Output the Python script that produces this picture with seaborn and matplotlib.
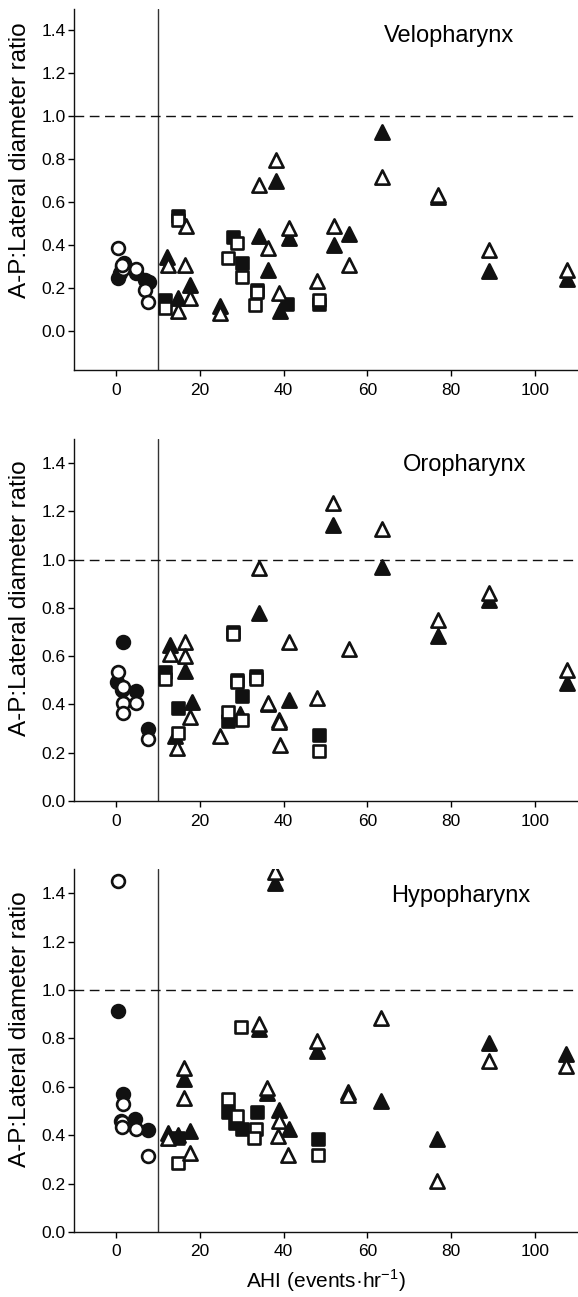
"""
Pharyngeal A-P:lateral diameter ratio against AHI, three airway regions.
Open/filled markers are the two measurements for each subject.
"""

import numpy as np
import pandas as pd
import matplotlib
matplotlib.use('Agg')
import matplotlib.pyplot as plt
import seaborn as sns

# ============================================================================
# Data: (AHI, ratio) pairs
# ============================================================================
REGIONS = ['Velopharynx', 'Oropharynx', 'Hypopharynx']

velo_circle_open = [(0.5, 0.39), (1.7, 0.29), (1.5, 0.31), (4.9, 0.29), (6.9, 0.19), (7.7, 0.135)]
velo_circle_filled = [(0.5, 0.25), (1.0, 0.27), (1.5, 0.30), (2.0, 0.32), (4.9, 0.27),
                      (6.9, 0.24), (8.0, 0.23)]
velo_square_open = [(11.7, 0.108), (14.9, 0.52), (26.8, 0.34), (29.0, 0.41), (30.0, 0.255),
                    (33.2, 0.123), (33.6, 0.185), (48.5, 0.146)]
velo_square_filled = [(11.7, 0.146), (14.9, 0.535), (28.0, 0.44), (30.0, 0.32), (33.6, 0.19),
                      (40.7, 0.125), (48.5, 0.125)]
velo_tri_open = [(12.5, 0.31), (14.9, 0.093), (16.5, 0.31), (16.8, 0.49), (17.7, 0.154),
                 (24.8, 0.085), (34.2, 0.679), (36.3, 0.386), (38.2, 0.795), (38.8, 0.177),
                 (41.4, 0.48), (48.0, 0.234), (52.0, 0.49), (55.7, 0.308), (63.4, 0.718),
                 (76.9, 0.636), (89.1, 0.38), (107.7, 0.285)]
velo_tri_filled = [(12.1, 0.347), (14.9, 0.154), (17.7, 0.216), (24.8, 0.12), (34.2, 0.444),
                   (36.3, 0.285), (38.2, 0.70), (39.1, 0.093), (41.4, 0.435), (52.0, 0.404),
                   (55.7, 0.455), (63.4, 0.926), (76.9, 0.625), (89.1, 0.28), (107.7, 0.245)]

oro_circle_open = [(0.5, 0.535), (1.75, 0.473), (1.75, 0.407), (1.75, 0.363), (4.9, 0.407),
                   (7.7, 0.255)]
oro_circle_filled = [(1.75, 0.657), (0.3, 0.494), (1.5, 0.46), (4.9, 0.457), (7.7, 0.297)]
oro_square_open = [(11.7, 0.505), (14.9, 0.28), (26.8, 0.37), (28.0, 0.69), (28.8, 0.494),
                   (30.0, 0.335), (33.4, 0.505), (48.5, 0.208)]
oro_square_filled = [(11.7, 0.535), (14.9, 0.384), (26.8, 0.33), (28.0, 0.70), (28.8, 0.50),
                     (30.0, 0.435), (33.4, 0.52), (48.5, 0.273)]
oro_tri_open = [(12.9, 0.61), (14.6, 0.218), (16.5, 0.66), (16.5, 0.60), (17.7, 0.35),
                (24.8, 0.27), (34.2, 0.964), (36.3, 0.407), (39.0, 0.328), (39.1, 0.232),
                (41.4, 0.66), (47.9, 0.425), (51.9, 1.235), (55.7, 0.628), (63.4, 1.129),
                (76.9, 0.752), (89.1, 0.862), (107.6, 0.542)]
oro_tri_filled = [(12.9, 0.646), (14.1, 0.27), (16.5, 0.54), (18.1, 0.41), (29.6, 0.36),
                  (34.2, 0.777), (36.3, 0.40), (39.0, 0.335), (41.4, 0.418), (51.9, 1.143),
                  (63.4, 0.968), (76.9, 0.683), (89.1, 0.832), (107.6, 0.487)]

hypo_circle_open = [(0.55, 1.452), (1.6, 0.527), (1.35, 0.454), (1.35, 0.435), (4.8, 0.427),
                    (7.7, 0.313)]
hypo_circle_filled = [(0.55, 0.913), (1.6, 0.569), (1.2, 0.46), (4.5, 0.465), (7.7, 0.42)]
hypo_square_open = [(14.9, 0.286), (26.8, 0.548), (28.8, 0.479), (29.8, 0.847), (33.4, 0.424),
                    (33.0, 0.389), (48.3, 0.32)]
hypo_square_filled = [(14.9, 0.389), (26.8, 0.495), (28.5, 0.45), (30.0, 0.427), (33.6, 0.495),
                      (48.3, 0.385)]
hypo_tri_open = [(12.5, 0.39), (16.3, 0.679), (16.3, 0.555), (17.7, 0.327), (34.2, 0.858),
                 (36.0, 0.596), (38.0, 1.489), (39.0, 0.458), (38.7, 0.396), (41.1, 0.32),
                 (47.9, 0.789), (55.4, 0.565), (63.2, 0.886), (76.7, 0.21), (89.0, 0.707),
                 (107.4, 0.686)]
hypo_tri_filled = [(12.5, 0.41), (14.9, 0.40), (16.3, 0.634), (17.7, 0.417), (34.2, 0.84),
                   (36.0, 0.575), (38.0, 1.442), (39.0, 0.506), (41.4, 0.424), (47.9, 0.748),
                   (55.4, 0.58), (63.2, 0.541), (76.7, 0.386), (89.0, 0.783), (107.4, 0.734)]

PANEL_DATA = {
    'Velopharynx': {'circle': (velo_circle_open, velo_circle_filled),
                    'square': (velo_square_open, velo_square_filled),
                    'triangle': (velo_tri_open, velo_tri_filled)},
    'Oropharynx': {'circle': (oro_circle_open, oro_circle_filled),
                   'square': (oro_square_open, oro_square_filled),
                   'triangle': (oro_tri_open, oro_tri_filled)},
    'Hypopharynx': {'circle': (hypo_circle_open, hypo_circle_filled),
                    'square': (hypo_square_open, hypo_square_filled),
                    'triangle': (hypo_tri_open, hypo_tri_filled)},
}

rows = []
for region, groups in PANEL_DATA.items():
    for group, (open_pts, filled_pts) in groups.items():
        for state, pts in (('open', open_pts), ('filled', filled_pts)):
            for ahi, ratio in pts:
                rows.append({'region': region, 'group': group, 'state': state,
                             'ahi': ahi, 'ratio': ratio})
df = pd.DataFrame(rows)

# ============================================================================
# Styling
# ============================================================================
sns.set_style('ticks')
plt.rcParams['font.family'] = ['Liberation Sans', 'DejaVu Sans']
plt.rcParams['axes.linewidth'] = 1.0
plt.rcParams['axes.edgecolor'] = '#111111'
plt.rcParams['text.color'] = 'black'
plt.rcParams['axes.labelcolor'] = 'black'

MARKERS = {'circle': 'o', 'square': 's', 'triangle': '^'}
SIZES = {'circle': 85, 'square': 80, 'triangle': 105}
FACE = {'open': 'white', 'filled': '#111111'}

# axes boxes in figure fractions [left, bottom, width, height]
W, H = 578, 1297
BOXES = [
    [74 / W, 1 - 370 / H, 503 / W, 361 / H],
    [74 / W, 1 - 801 / H, 503 / W, 362 / H],
    [74 / W, 1 - 1232 / H, 503 / W, 363 / H],
]
YLIMS = [(-0.18, 1.5), (0.0, 1.5), (0.0, 1.5)]
TITLE_POS = [(79.5, 1.345), (83.2, 1.368), (82.3, 1.362)]
YLABEL_Y = [0.58, 0.56, 0.56]

fig = plt.figure(figsize=(W / 100, H / 100), dpi=100)

for i, region in enumerate(REGIONS):
    ax = fig.add_axes(BOXES[i])
    sub = df[df['region'] == region]

    ax.axvline(10, color='#333333', lw=1.0, zorder=1)
    ax.axhline(1.0, color='#111111', lw=1.0, dashes=(7, 4), zorder=1)

    # filled first, open on top
    for state in ['filled', 'open']:
        for group in ['circle', 'square', 'triangle']:
            pts = sub[(sub['state'] == state) & (sub['group'] == group)]
            sns.scatterplot(data=pts, x='ahi', y='ratio', ax=ax,
                            marker=MARKERS[group], s=SIZES[group],
                            color=FACE[state], edgecolor='#111111',
                            linewidth=1.9, zorder=3, legend=False)

    ax.set_xlim(-10, 110)
    ax.set_ylim(*YLIMS[i])
    ax.set_xticks([0, 20, 40, 60, 80, 100])
    ax.set_yticks(np.arange(0, 1.41, 0.2))
    ax.set_yticklabels([f'{v:.1f}' for v in np.arange(0, 1.41, 0.2)])
    ax.tick_params(axis='both', direction='out', length=4, width=1.0,
                   labelsize=12.5, colors='black')
    ax.tick_params(axis='y', pad=2)
    ax.tick_params(axis='x', pad=5)

    ax.set_ylabel('A-P:Lateral diameter ratio', fontsize=17.5)
    ax.yaxis.set_label_coords(-0.086, YLABEL_Y[i])
    if i == 2:
        ax.set_xlabel('AHI (events·hr$^{\\mathregular{-1}}$)', fontsize=15, labelpad=6)
    else:
        ax.set_xlabel('')

    tx, ty = TITLE_POS[i]
    ax.text(tx, ty, region, fontsize=17, ha='center', va='baseline')

    sns.despine(ax=ax)

plt.savefig('out.png', dpi=100, facecolor='white')
